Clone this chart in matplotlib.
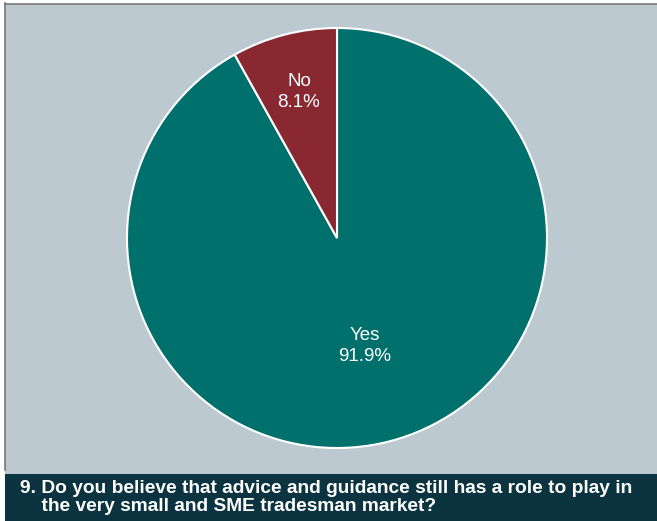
import numpy as np
import matplotlib
matplotlib.use("Agg")
import matplotlib.pyplot as plt
from matplotlib.patches import Rectangle

categories = ["Yes", "No"]
values = [91.9, 8.1]
colors = ["#00706C", "#8A2832"]
label_dist = [0.53, 0.72]
title = ("9. Do you believe that advice and guidance still has a role to play in\n"
         "    the very small and SME tradesman market?")

W, H = 657, 521
fig = plt.figure(figsize=(W / 100, H / 100), dpi=100)
fig.patch.set_facecolor("white")

# background panel and title band
fig.patches.append(Rectangle((5 / W, (H - 474) / H), (W - 5) / W, 470 / H,
                             transform=fig.transFigure, facecolor="#BCC9D0",
                             edgecolor="none", zorder=-2))
fig.patches.append(Rectangle((5 / W, 0), (W - 5) / W, (H - 474) / H,
                             transform=fig.transFigure, facecolor="#0B3440",
                             edgecolor="none", zorder=-2))
fig.lines.append(plt.Line2D([4.5 / W, 4.5 / W], [(H - 470) / H, (H - 3) / H],
                            transform=fig.transFigure, color="#777777", lw=1.2, zorder=-1))
fig.lines.append(plt.Line2D([4.5 / W, 1], [(H - 3.5) / H, (H - 3.5) / H],
                            transform=fig.transFigure, color="#777777", lw=1.2, zorder=-1))

cx, cy, r = 337, 238, 210
ax = fig.add_axes([(cx - r) / W, (H - cy - r) / H, 2 * r / W, 2 * r / H])
ax.set_zorder(1)
ax.set_facecolor("none")
wedges, _ = ax.pie(values, colors=colors, startangle=90, counterclock=False,
                   wedgeprops=dict(edgecolor="white", linewidth=1.5))
ax.set_xlim(-1, 1)
ax.set_ylim(-1, 1)
ax.set_aspect("equal")
ax.axis("off")

fam = ["Liberation Sans", "DejaVu Sans"]
for w, cat, v, d in zip(wedges, categories, values, label_dist):
    ang = np.deg2rad((w.theta1 + w.theta2) / 2)
    ax.text(d * np.cos(ang), d * np.sin(ang), f"{cat}\n{v:.1f}%",
            ha="center", va="center", color="white", fontsize=13.5,
            family=fam, linespacing=1.3)

fig.text(20 / W, 1 - 497.5 / H, title, ha="left", va="center", color="white",
         fontsize=13.8, fontweight="bold", family=fam, linespacing=1.15, zorder=2)

fig.savefig("out.png", dpi=100)
